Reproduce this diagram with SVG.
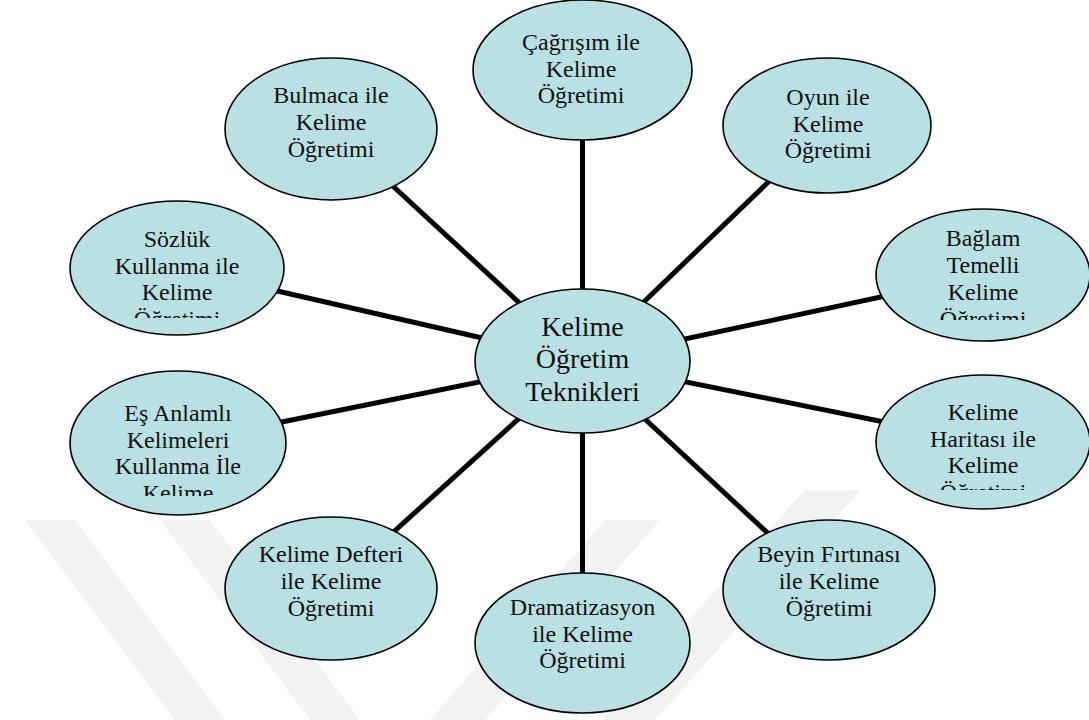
<svg xmlns="http://www.w3.org/2000/svg" width="1089" height="720" viewBox="0 0 1089 720">
<style>
.node ellipse{fill:#b9e0e3;stroke:#000;stroke-width:1.6}
.node text{font-family:"Liberation Serif","Times New Roman",serif;font-size:24px;fill:#111;text-anchor:middle}
#center text{font-size:28px}
.conn line{stroke:#000;stroke-width:5}
.wm{fill:#f2f2f2}
</style>
<defs>
<clipPath id="c-sozluk"><rect x="60" y="190" width="240" height="128"/></clipPath>
<clipPath id="c-baglam"><rect x="870" y="200" width="219" height="120"/></clipPath>
<clipPath id="c-es"><rect x="60" y="360" width="240" height="136"/></clipPath>
<clipPath id="c-harita"><rect x="870" y="360" width="219" height="130"/></clipPath>
</defs>
<rect width="1089" height="720" fill="#fff"/>
<g id="watermark">
<polygon class="wm" points="25,520 75,520 225,720 175,720"/>
<polygon class="wm" points="160,520 210,520 360,720 310,720"/>
<polygon class="wm" points="430,720 485,720 660,520 605,520"/>
<polygon class="wm" points="600,720 655,720 860,490 805,490"/>
</g>
<g id="connectors" class="conn">
<line x1="582.5" y1="361" x2="582.5" y2="70"/>
<line x1="582.5" y1="361" x2="827" y2="125.5"/>
<line x1="582.5" y1="361" x2="331" y2="129"/>
<line x1="582.5" y1="361" x2="177" y2="268"/>
<line x1="582.5" y1="361" x2="983" y2="275"/>
<line x1="582.5" y1="361" x2="178" y2="443"/>
<line x1="582.5" y1="361" x2="983" y2="442"/>
<line x1="582.5" y1="361" x2="331" y2="588.5"/>
<line x1="582.5" y1="361" x2="829" y2="590"/>
<line x1="582.5" y1="361" x2="582.5" y2="643"/>
</g>
<g id="cagrisim" class="node">
<ellipse cx="582.5" cy="70" rx="109.5" ry="70"/>
<text x="581" y="50">Çağrışım ile</text>
<text x="581" y="76.5">Kelime</text>
<text x="581" y="103">Öğretimi</text>
</g>
<g id="oyun" class="node">
<ellipse cx="827" cy="125.5" rx="104" ry="67.5"/>
<text x="828" y="105">Oyun ile</text>
<text x="828" y="131.5">Kelime</text>
<text x="828" y="158">Öğretimi</text>
</g>
<g id="bulmaca" class="node">
<ellipse cx="331" cy="129" rx="106" ry="71"/>
<text x="331" y="103">Bulmaca ile</text>
<text x="331" y="130">Kelime</text>
<text x="331" y="157">Öğretimi</text>
</g>
<g id="sozluk" class="node">
<ellipse cx="177" cy="268" rx="107" ry="67"/>
<g clip-path="url(#c-sozluk)">
<text x="177" y="247">Sözlük</text>
<text x="177" y="273.5">Kullanma ile</text>
<text x="177" y="300">Kelime</text>
<text x="177" y="326.5">Öğretimi</text>
</g>
</g>
<g id="baglam" class="node">
<ellipse cx="983" cy="275" rx="107" ry="66"/>
<g clip-path="url(#c-baglam)">
<text x="983" y="246">Bağlam</text>
<text x="983" y="273">Temelli</text>
<text x="983" y="300">Kelime</text>
<text x="983" y="327">Öğretimi</text>
</g>
</g>
<g id="esanlamli" class="node">
<ellipse cx="178" cy="443" rx="108" ry="72"/>
<g clip-path="url(#c-es)">
<text x="178" y="421">Eş Anlamlı</text>
<text x="178" y="447.5">Kelimeleri</text>
<text x="178" y="474">Kullanma İle</text>
<text x="178" y="500.5">Kelime</text>
</g>
</g>
<g id="harita" class="node">
<ellipse cx="983" cy="442" rx="107" ry="67"/>
<g clip-path="url(#c-harita)">
<text x="983" y="420">Kelime</text>
<text x="983" y="446.5">Haritası ile</text>
<text x="983" y="473">Kelime</text>
<text x="983" y="499.5">Öğretimi</text>
</g>
</g>
<g id="defter" class="node">
<ellipse cx="331" cy="588.5" rx="106" ry="71.5"/>
<text x="331" y="562">Kelime Defteri</text>
<text x="331" y="589">ile Kelime</text>
<text x="331" y="616">Öğretimi</text>
</g>
<g id="beyin" class="node">
<ellipse cx="829" cy="590" rx="106" ry="70"/>
<text x="829" y="562">Beyin Fırtınası</text>
<text x="829" y="589">ile Kelime</text>
<text x="829" y="616">Öğretimi</text>
</g>
<g id="drama" class="node">
<ellipse cx="582.5" cy="643" rx="107.5" ry="70"/>
<text x="582.5" y="615">Dramatizasyon</text>
<text x="582.5" y="642">ile Kelime</text>
<text x="582.5" y="668">Öğretimi</text>
</g>
<g id="center" class="node">
<ellipse cx="582.5" cy="361" rx="107.5" ry="72"/>
<text x="582.5" y="335.5">Kelime</text>
<text x="582.5" y="368">Öğretim</text>
<text x="582.5" y="400.5">Teknikleri</text>
</g>
</svg>
